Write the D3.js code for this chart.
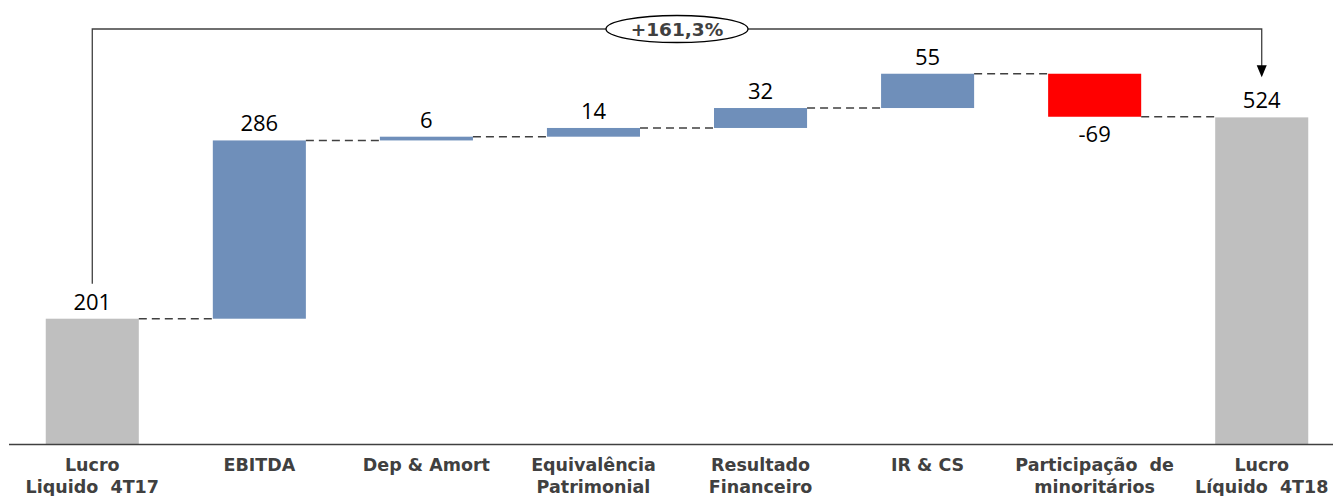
<!DOCTYPE html>
<html>
<head>
<meta charset="utf-8">
<script src="https://cdn.jsdelivr.net/npm/d3@7"></script>
<style>
  body { margin: 0; background: #fff; }
  svg { display: block; }
</style>
</head>
<body>
<svg id="chart" width="1333" height="496"></svg>
<script>
// data
var categories = [
  ["Lucro", "Liquido  4T17"],
  ["EBITDA"],
  ["Dep & Amort"],
  ["Equivalência", "Patrimonial"],
  ["Resultado", "Financeiro"],
  ["IR & CS"],
  ["Participação  de", "minoritários"],
  ["Lucro", "Líquido  4T18"]
]
var values = [201, 286, 6, 14, 32, 55, -69, 524]
var kinds = ["total", "step", "step", "step", "step", "step", "step", "total"]
var growthLabel = "+161,3%"

var svg = d3.select("#chart")

// build start / end for each bar
var run = 0
var bars = values.map(function (v, i) {
  var d = { i: i, v: v, kind: kinds[i] }
  if (kinds[i] === "total") {
    d.y0 = 0; d.y1 = v; run = v
  } else {
    d.y0 = run; d.y1 = run + v; run = run + v
  }
  return d
})

var x = d3.scaleBand()
  .domain(d3.range(categories.length))
  .range([9, 1345])
  .paddingInner(0.443)
  .paddingOuter(0.22)

var y = d3.scaleLinear()
  .domain([0, 600])
  .range([444, 70])

function color(d) {
  if (d.kind === "total") return "#bfbfbf"
  return d.v < 0 ? "#ff0000" : "#6f8fba"
}

// bars
svg.selectAll("rect.bar")
  .data(bars)
  .enter().append("rect")
  .attr("class", "bar")
  .attr("x", d => x(d.i))
  .attr("width", x.bandwidth())
  .attr("y", d => y(Math.max(d.y0, d.y1)))
  .attr("height", d => Math.max(1, Math.abs(y(d.y0) - y(d.y1))))
  .attr("fill", color)

// dashed connectors
svg.selectAll("line.conn")
  .data(bars.slice(0, bars.length - 1))
  .enter().append("line")
  .attr("class", "conn")
  .attr("x1", d => x(d.i) + x.bandwidth())
  .attr("x2", d => x(d.i + 1))
  .attr("y1", d => y(d.y1))
  .attr("y2", d => y(d.y1))
  .attr("stroke", "#404040")
  .attr("stroke-width", 1.4)
  .attr("stroke-dasharray", "8,5")

// value labels
svg.selectAll("text.val")
  .data(bars)
  .enter().append("text")
  .attr("class", "val")
  .attr("x", d => x(d.i) + x.bandwidth() / 2)
  .attr("y", d => d.v < 0 ? y(d.y1) + 25 : y(Math.max(d.y0, d.y1)) - 9)
  .attr("text-anchor", "middle")
  .style("font-family", "'Open Sans', 'Noto Sans', sans-serif")
  .style("font-size", "22px")
  .attr("fill", "#000")
  .text(d => d.v)

// baseline
svg.append("line")
  .attr("x1", 9).attr("x2", 1333)
  .attr("y1", y(0) + 0.5).attr("y2", y(0) + 0.5)
  .attr("stroke", "#404040")
  .attr("stroke-width", 1.5)

// category labels
var cat = svg.selectAll("text.cat")
  .data(categories)
  .enter().append("text")
  .attr("class", "cat")
  .attr("x", (d, i) => x(i) + x.bandwidth() / 2)
  .attr("y", 471)
  .attr("text-anchor", "middle")
  .style("font-family", "'DejaVu Sans', Verdana, sans-serif")
  .style("font-weight", "bold")
  .style("font-size", "17.5px")
  .style("white-space", "pre")
  .attr("fill", "#404040")

cat.selectAll("tspan")
  .data(d => d)
  .enter().append("tspan")
  .attr("x", function () { return d3.select(this.parentNode).attr("x") })
  .attr("dy", (d, j) => j === 0 ? 0 : 21.5)
  .text(d => d)

// growth bracket from first total to last total
var first = bars[0], last = bars[bars.length - 1]
var xa = x(first.i) + x.bandwidth() / 2
var xb = x(last.i) + x.bandwidth() / 2
var topY = 29
svg.append("path")
  .attr("d", "M" + xa + "," + (y(first.y1) - 35) + "V" + topY + "H" + xb + "V" + (y(last.y1) - 50))
  .attr("fill", "none")
  .attr("stroke", "#404040")
  .attr("stroke-width", 1.3)

svg.append("path")
  .attr("d", "M" + (xb - 5) + "," + (y(last.y1) - 52) + "L" + (xb + 5) + "," + (y(last.y1) - 52) + "L" + xb + "," + (y(last.y1) - 40) + "Z")
  .attr("fill", "#000")

var ex = (xa + xb) / 2
svg.append("ellipse")
  .attr("cx", ex).attr("cy", topY)
  .attr("rx", 71).attr("ry", 13.5)
  .attr("fill", "#fff")
  .attr("stroke", "#000")
  .attr("stroke-width", 1.3)

svg.append("text")
  .attr("x", ex).attr("y", topY + 7)
  .attr("text-anchor", "middle")
  .style("font-family", "'DejaVu Sans', Verdana, sans-serif")
  .style("font-weight", "bold")
  .style("font-size", "18.5px")
  .attr("fill", "#404040")
  .text(growthLabel)
</script>
</body>
</html>
